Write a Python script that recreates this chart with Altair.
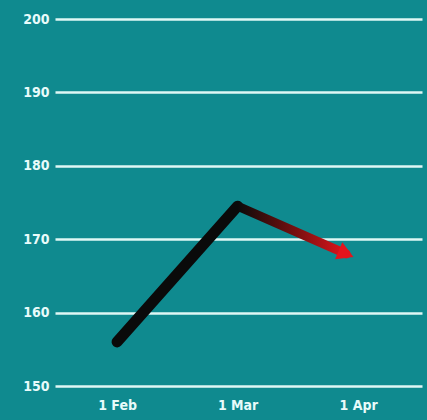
import altair as alt
import pandas as pd

x_labels = ["1 Feb", "1 Mar", "1 Apr"]
x_pos = [0, 1, 1.9]
values = [156, 174.5, 168]
y_ticks = [150, 160, 170, 180, 190, 200]

df1 = pd.DataFrame({"x": x_pos[:2], "y": values[:2]})
df2 = pd.DataFrame({"x": x_pos[1:], "y": values[1:]})
df_end = pd.DataFrame({"x": [x_pos[2]], "y": [values[2]]})

label_expr = "[" + ",".join("'%s'" % s for s in x_labels) + "][datum.value]"

xs = alt.Scale(domain=[-0.515, 2.53], nice=False, zero=False)
ys = alt.Scale(domain=[150, 200], nice=False, zero=False)

font = "DejaVu Sans Condensed, Liberation Sans, sans-serif"

base_x = alt.X("x:Q", scale=xs, axis=alt.Axis(values=[0, 1, 2], labelExpr=label_expr,
               grid=False, domain=False, ticks=False, labelPadding=12,
               labelColor="#e8fbfa", labelFont=font, labelFontSize=14, labelFontWeight="bold"),
               title=None)
base_y = alt.Y("y:Q", scale=ys, axis=alt.Axis(values=y_ticks, grid=True, gridColor="#dff7f5",
               gridWidth=2.5, domain=False, ticks=False, labelPadding=6,
               labelColor="#e8fbfa", labelFont=font, labelFontSize=14, labelFontWeight="bold"),
               title=None)

seg1 = alt.Chart(df1).mark_line(color="#0a0a0a", strokeWidth=11, strokeCap="round").encode(
    x=base_x, y=base_y)

grad = alt.Gradient(gradient="linear",
                    stops=[alt.GradientStop(color="#0a0a0a", offset=0),
                           alt.GradientStop(color="#7a1010", offset=0.55),
                           alt.GradientStop(color="#e0141c", offset=1)],
                    x1=0, x2=1, y1=0, y2=0)
seg2 = alt.Chart(df2).mark_line(color=grad, strokeWidth=9, strokeCap="round",
                                strokeJoin="round").encode(x="x:Q", y="y:Q")

head = alt.Chart(df_end).mark_point(shape="triangle-right", filled=True, color="#e4141c",
                                    opacity=1, size=340, angle=23).encode(x="x:Q", y="y:Q")

chart = alt.layer(seg1, seg2, head).properties(
    width=367, height=367, background="#0f8a8f",
    padding={"left": 55, "top": 19, "right": 5, "bottom": 34},
    autosize=alt.AutoSizeParams(type="none"),
).configure_view(stroke=None)

chart.save("out.html", embed_options={"renderer": "svg", "actions": False})
